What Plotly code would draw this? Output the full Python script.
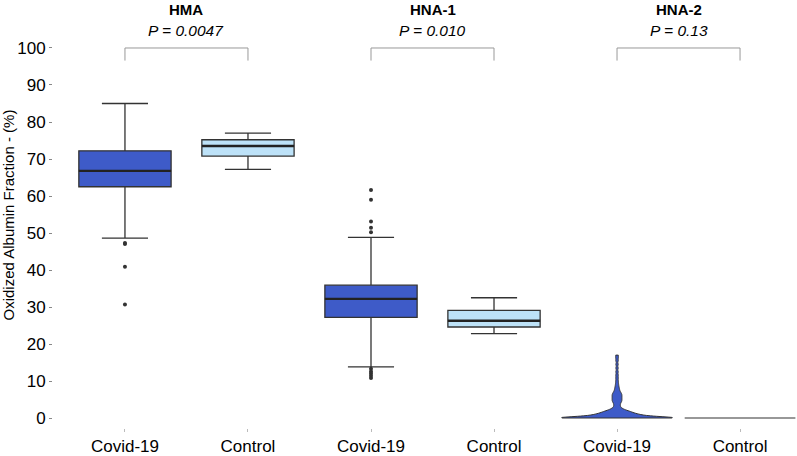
import plotly.graph_objects as go

# ---- data ----
groups = ["HMA", "HNA-1", "HNA-2"]
p_values = ["P = 0.0047", "P = 0.010", "P = 0.13"]
tick_labels = ["Covid-19", "Control", "Covid-19", "Control", "Covid-19", "Control"]
y_title = "Oxidized Albumin Fraction - (%)"

# box summary stats (positions 0..3): HMA Covid, HMA Control, HNA-1 Covid, HNA-1 Control
box_q1 = [62.5, 70.8, 27.2, 24.6]
box_median = [66.8, 73.5, 32.2, 26.3]
box_q3 = [72.2, 75.2, 35.9, 29.1]
box_low = [48.6, 67.2, 13.8, 22.8]
box_high = [85.0, 77.0, 48.8, 32.5]

hma_covid_outliers = [47.0, 47.3, 40.9, 30.7]
hna1_covid_outliers = [61.6, 59.0, 53.1, 51.4, 50.2, 13.3, 12.6, 12.0, 11.4, 10.8]

# HNA-2 samples (violins)
hna2_covid = [0.0] * 40 + [
    0.05, 0.1, 0.15, 0.2, 0.25, 0.3, 0.35, 0.4, 0.45, 0.5,
    0.55, 0.6, 0.6, 0.65, 0.7, 0.7, 0.75, 0.8, 0.8, 0.85, 0.9, 0.9,
    0.95, 1.0, 1.0, 1.1, 1.15, 1.2,
    1.3, 1.3, 1.4, 1.45, 1.5, 1.6, 1.6, 1.7, 1.8, 1.8, 1.9, 2.0,
    2.1, 2.2, 2.4, 2.5, 2.7, 3.0, 3.3,
    3.6, 3.9, 4.2, 4.4, 4.6, 4.8, 5.0, 5.2, 5.4, 5.6, 5.8, 6.0,
    6.2, 6.4, 6.6, 6.8, 7.1, 7.4, 7.8, 8.2,
    8.7, 9.3, 10.0, 10.8, 11.6, 12.5, 13.5, 14.5, 15.5, 16.3, 17.0]
hna2_control = [0.0] * 20

covid_color = "#3E5BC8"
control_color = "#BDE2F8"
edge = "#333333"
box_width = 0.75
violin_width = 0.9

fig = go.Figure()

fills = [covid_color, control_color, covid_color, control_color]
for i in range(4):
    fig.add_trace(go.Box(
        x=[i], q1=[box_q1[i]], median=[box_median[i]], q3=[box_q3[i]],
        lowerfence=[box_low[i]], upperfence=[box_high[i]],
        width=box_width, whiskerwidth=0.5, fillcolor=fills[i],
        line=dict(color=edge, width=1.3), boxpoints=False,
        showlegend=False, hoverinfo="skip"))
    # thicker median line like ggplot
    fig.add_shape(type="line", xref="x", yref="y",
                  x0=i - box_width / 2, x1=i + box_width / 2,
                  y0=box_median[i], y1=box_median[i],
                  line=dict(color="#222222", width=2.4))

fig.add_trace(go.Scatter(x=[0] * len(hma_covid_outliers), y=hma_covid_outliers,
                         mode="markers", marker=dict(color=edge, size=4),
                         showlegend=False))
fig.add_trace(go.Scatter(x=[2] * len(hna1_covid_outliers), y=hna1_covid_outliers,
                         mode="markers", marker=dict(color=edge, size=4),
                         showlegend=False))

fig.add_trace(go.Violin(x=[4] * len(hna2_covid), y=hna2_covid, width=violin_width,
                        scalemode="width", spanmode="hard", bandwidth=0.35,
                        fillcolor=covid_color, line=dict(color=edge, width=1),
                        points=False, box_visible=False, meanline_visible=False,
                        showlegend=False, opacity=1))
# control HNA-2: all values identical -> degenerate violin drawn as a flat line
ctrl_level = max(hna2_control)
fig.add_shape(type="line", xref="x", yref="y",
              x0=5 - violin_width / 2, x1=5 + violin_width / 2,
              y0=ctrl_level, y1=ctrl_level,
              line=dict(color=edge, width=1.2))

# brackets and titles
for g in range(3):
    a, b = 2 * g, 2 * g + 1
    fig.add_shape(type="path", xref="x", yref="y",
                  path=f"M {a} 96.6 L {a} 100 L {b} 100 L {b} 96.6",
                  line=dict(color="#999999", width=1))
    fig.add_annotation(x=(a + b) / 2, y=1.079, xref="x", yref="paper",
                       text=f"<b>{groups[g]}</b>", showarrow=False,
                       font=dict(size=15, color="black"), yanchor="middle")
    fig.add_annotation(x=(a + b) / 2, y=1.024, xref="x", yref="paper",
                       text=f"<i>{p_values[g]}</i>", showarrow=False,
                       font=dict(size=15.5, color="black"), yanchor="middle")

fig.add_annotation(x=-0.0598, y=0.549, xref="paper", yref="paper",
                   text=y_title, textangle=-90, showarrow=False,
                   font=dict(size=15, color="black"),
                   xanchor="center", yanchor="middle")

fig.update_layout(
    width=797, height=456,
    margin=dict(l=53, r=0, t=40, b=28),
    paper_bgcolor="white", plot_bgcolor="white",
    font=dict(family="Liberation Sans, Arial, sans-serif", size=17, color="black"),
    violingap=0, boxgap=0, violinmode="overlay", boxmode="overlay",
    xaxis=dict(range=[-0.585, 5.463], tickmode="array",
               tickvals=[0, 1, 2, 3, 4, 5], ticktext=tick_labels,
               showgrid=False, zeroline=False, showline=False,
               ticks="outside", ticklen=3, tickcolor="#bbbbbb",
               tickfont=dict(size=17), automargin=False),
    yaxis=dict(range=[-2.70, 102.16], tickmode="array",
               tickvals=list(range(0, 101, 10)),
               showgrid=False, zeroline=False, showline=False,
               ticks="outside", ticklen=3, tickcolor="#888888",
               tickfont=dict(size=17), automargin=False),
)

fig.write_html("out.html")
